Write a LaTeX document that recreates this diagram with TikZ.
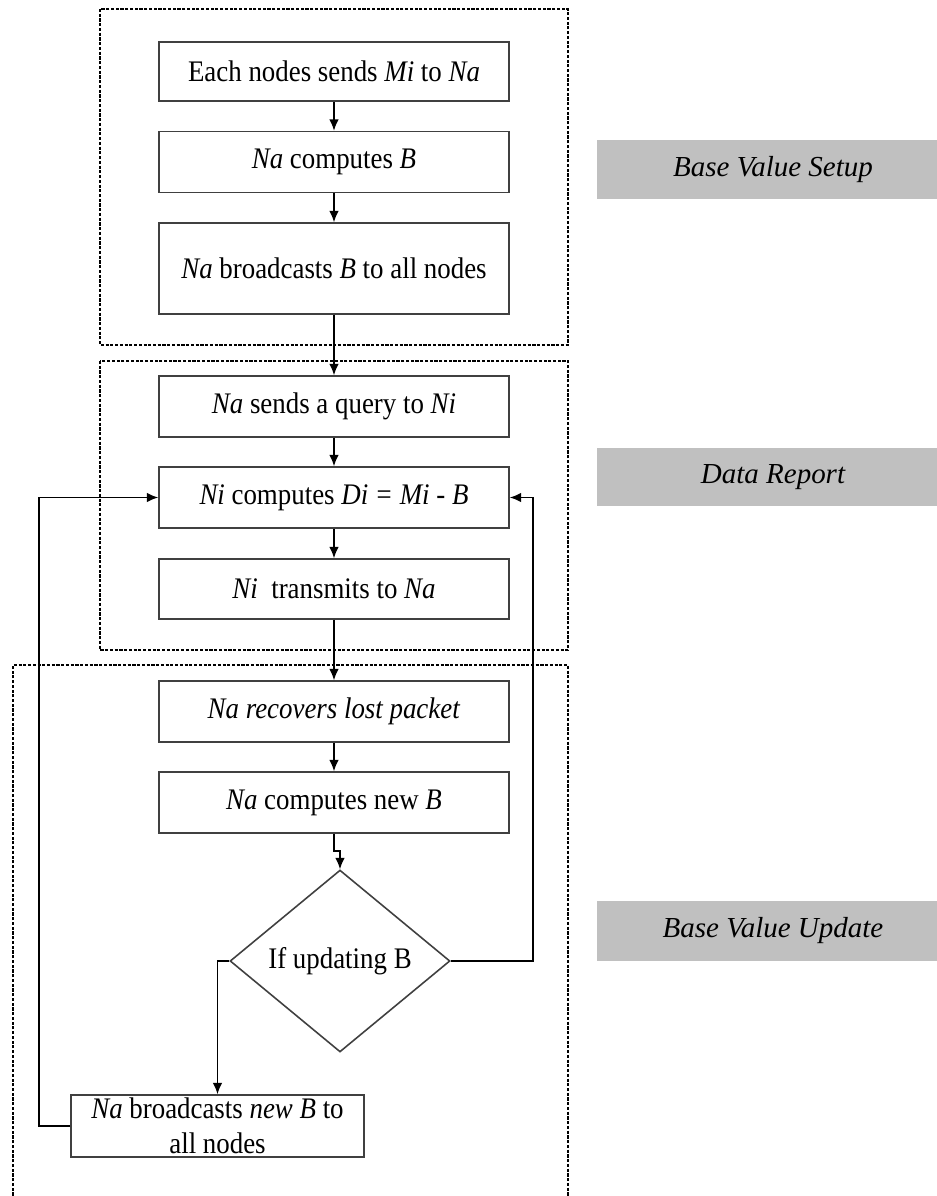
\documentclass[tikz,border=0pt]{standalone}
\usepackage{fontspec}
\setmainfont{Liberation Serif}
\newfontfamily\boxfont[FakeStretch=0.9]{Liberation Serif}
\usepackage{tikz}
\usetikzlibrary{shapes.geometric,arrows.meta}
\definecolor{phasegray}{HTML}{C0C0C0}
\tikzset{
  stepbox/.style={draw=black!75,line width=0.9pt,minimum width=7cm,minimum height=1.22cm,
    inner sep=0pt,font=\boxfont\fontsize{17}{20}\selectfont},
  testbox/.style={stepbox,shape=diamond,minimum width=4.4cm,minimum height=3.64cm},
  phase/.style={fill=phasegray,minimum width=7.04cm,minimum height=1.18cm,inner sep=0pt,
    font=\fontsize{16.5}{19}\selectfont\itshape},
  stage/.style={draw=black,line width=1.1pt,dash pattern=on 1.8pt off 0.9pt},
  flow/.style={-{Latex[length=6.5pt,width=5.5pt]},line width=0.9pt}
}

\begin{document}
\begin{tikzpicture}[x=0.02cm,y=-0.02cm]
  \useasboundingbox (0,0) rectangle (936,1196);
  \draw[stage] (100,9) rectangle (568,345);
  \draw[stage] (100,361) rectangle (568,650);
  \draw[stage] (13,1205) |- (568,665) -- (568,1205);

  \node[stepbox,minimum height=1.18cm] (send) at (334,71.5) {Each nodes sends \textit{Mi} to \textit{Na}};
  \node[stepbox] (base) at (334,162) {\textit{Na} computes \textit{B}};
  \node[stepbox,minimum height=1.82cm] (bcast) at (334,268.5) {\textit{Na} broadcasts \textit{B} to all nodes};
  \node[stepbox] (query) at (334,406.5) {\textit{Na} sends a query to \textit{Ni}};
  \node[stepbox] (diff) at (334,497.5) {\textit{Ni} computes \textit{Di = Mi - B}};
  \node[stepbox,minimum height=1.2cm] (trans) at (334,589) {\textit{Ni}\ \ transmits to \textit{Na}};
  \node[stepbox] (recov) at (334,711.5) {\textit{Na recovers lost packet}};
  \node[stepbox] (newb) at (334,802.5) {\textit{Na} computes new\ \textit{B}};
  \node[testbox] (test) at (340,961) {If updating B};
  \node[stepbox,minimum width=5.86cm,minimum height=1.24cm,align=center] (nbcast) at (217.5,1126)
    {\textit{Na} broadcasts \textit{new B} to\\all nodes};

  \node[phase] (setup) at (773,169.5) {Base Value Setup};
  \node[phase,minimum height=1.16cm] (report) at (773,477) {Data Report};
  \node[phase,minimum height=1.2cm] (update) at (773,931) {Base Value Update};

  \draw[flow] (send) -- (base);
  \draw[flow] (base) -- (bcast);
  \draw[flow] (bcast) -- (query);
  \draw[flow] (query) -- (diff);
  \draw[flow] (diff) -- (trans);
  \draw[flow] (trans) -- (recov);
  \draw[flow] (recov) -- (newb);
  \draw[flow] (newb.south) -- ++(0,17) -| (test.north);
  \draw[flow] (test.west) -| (nbcast.north);
  \draw[flow] (test.east) -- ++(82,0) |- (diff.east);
  \draw[flow] (nbcast.west) -- ++(-31,0) |- (diff.west);
\end{tikzpicture}
\end{document}
